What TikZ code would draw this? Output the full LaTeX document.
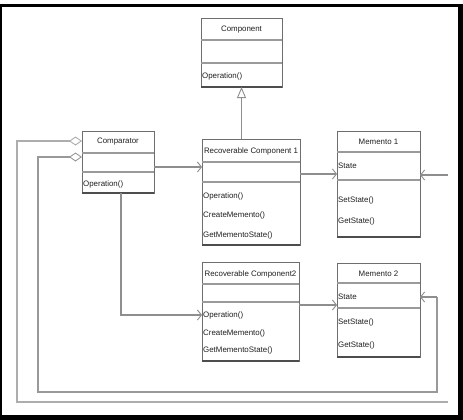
\documentclass[tikz,border=0pt]{standalone}
\usepackage{fontspec}
\setmainfont{Liberation Sans}
\usetikzlibrary{arrows.meta,calc}
\definecolor{boxc}{HTML}{6E6E6E}
\definecolor{sepc}{HTML}{9A9A9A}
\definecolor{linec}{HTML}{8E8E8E}
\definecolor{outc}{HTML}{ADADAD}
\definecolor{txtc}{HTML}{202020}
\tikzset{
  classbox/.style={draw=boxc, line width=0.9pt, fill=white, inner sep=0pt, outer sep=0pt, anchor=north west},
  sepline/.style={draw=sepc, line width=1.3pt},
  shadeline/.style={draw=boxc!70!black, line width=1.5pt},
  lbl/.style={font=\fontsize{7.9}{8}\selectfont, text=txtc, inner sep=0pt},
  oplbl/.style={lbl, anchor=west},
  barb/.style={-{Straight Barb[length=4pt,width=10pt,line width=0.9pt]}},
  assoc/.style={draw=linec, line width=1.3pt, barb},
  inloop/.style={draw=linec!90, line width=1.4pt},
  outloop/.style={draw=outc, line width=2pt},
  dia/.style={{Diamond[open,length=13pt,width=9pt,line width=0.9pt]}-},
  gen/.style={draw=linec, line width=1.3pt, -{Triangle[open,length=11pt,width=9pt,line width=0.9pt]}}
}
\newcommand\umlclass[7]{%
  \node[classbox, minimum width=#4pt, minimum height=#5pt] (#1) at (#2,#3) {};
  \draw[sepline] ([yshift=-#6pt]#1.north west) -- ([yshift=-#6pt]#1.north east);
  \draw[sepline] ([yshift=-#7pt]#1.north west) -- ([yshift=-#7pt]#1.north east);
  \draw[shadeline] (#1.south west) -- (#1.south east);
}
\begin{document}
\begin{tikzpicture}[x=1pt,y=-1pt]
\useasboundingbox (0,0) rectangle (463,420);
\fill[white] (0,0) rectangle (463,420);

% classes
\umlclass{comp}{201}{18}{81}{69}{22}{45}
\node[lbl] (compname) at (241.5,30) {Component};
\node[oplbl] (compop) at (202,76) {Operation()};

\umlclass{cmp}{82}{131}{72}{62}{22}{41}
\node[lbl] (cmpname) at (118,142) {Comparator};
\node[oplbl] (cmpop) at (83,184) {Operation()};

\umlclass{rc1}{202}{139}{98}{106}{23}{43}
\node[lbl] (rc1name) at (251,151) {Recoverable Component 1};
\node[oplbl] (rc1op1) at (203,196) {Operation()};
\node[oplbl] (rc1op2) at (203,215) {CreateMemento()};
\node[oplbl] (rc1op3) at (203,235) {GetMementoState()};

\umlclass{m1}{337}{131}{83}{106}{21}{49}
\node[lbl] (m1name) at (378.5,142) {Memento 1};
\node[oplbl] (m1att) at (338,166) {State};
\node[oplbl] (m1op1) at (338,200) {SetState()};
\node[oplbl] (m1op2) at (338,221) {GetState()};

\umlclass{rc2}{202}{262}{97}{99}{22}{40}
\node[lbl] (rc2name) at (250.5,274) {Recoverable Component2};
\node[oplbl] (rc2op1) at (203,315) {Operation()};
\node[oplbl] (rc2op2) at (203,333) {CreateMemento()};
\node[oplbl] (rc2op3) at (203,350) {GetMementoState()};

\umlclass{m2}{337}{263}{83}{94}{20}{45}
\node[lbl] (m2name) at (378.5,274) {Memento 2};
\node[oplbl] (m2att) at (338,297) {State};
\node[oplbl] (m2op1) at (338,322) {SetState()};
\node[oplbl] (m2op2) at (338,345) {GetState()};

% generalization
\draw[gen] (comp.south |- rc1.north) -- (comp.south);

% associations
\coordinate (a1) at ([yshift=-5pt]cmp.east);
\draw[assoc] (a1) -- (a1 -| rc1.west);
\coordinate (a2) at ([xshift=3pt]cmp.south);
\draw[assoc] (a2) |- (rc2.west |- rc2op1.west);
\coordinate (a3) at ([yshift=-35pt]rc1.north east);
\draw[assoc] (a3) -- (a3 -| m1.west);
\coordinate (a4) at ([yshift=-43pt]rc2.north east);
\draw[assoc] (a4) -- (a4 -| m2.west);

% inner loop (Comparator -> Memento 2)
\coordinate (d2) at ([yshift=-26pt]cmp.north west);
\coordinate (inBL) at (38,392);
\coordinate (inR) at (437,297);
\draw[inloop, dia] (d2) -- (d2 -| inBL) -- (inBL) -- (inBL -| inR) -- (inR);
\draw[assoc] (inR) -- (inR -| m2.east);

% outer loop (Comparator -> Memento 1)
\coordinate (d1) at ([yshift=-10pt]cmp.north west);
\coordinate (outBL) at (17,402);
\coordinate (outBR) at (448,402);
\coordinate (outTR) at (448,175);
\draw[outloop, dia] (d1) -- (d1 -| outBL) -- (outBL) -- (outBR);
\draw[assoc] (outTR) -- (outTR -| m1.east);

% frame
\fill[black] (0,4) rectangle (463,7);
\fill[black] (0,4) rectangle (1.5,420);
\fill[black] (458,4) rectangle (463,420);
\fill[black] (0,415) rectangle (463,420);
\end{tikzpicture}
\end{document}
